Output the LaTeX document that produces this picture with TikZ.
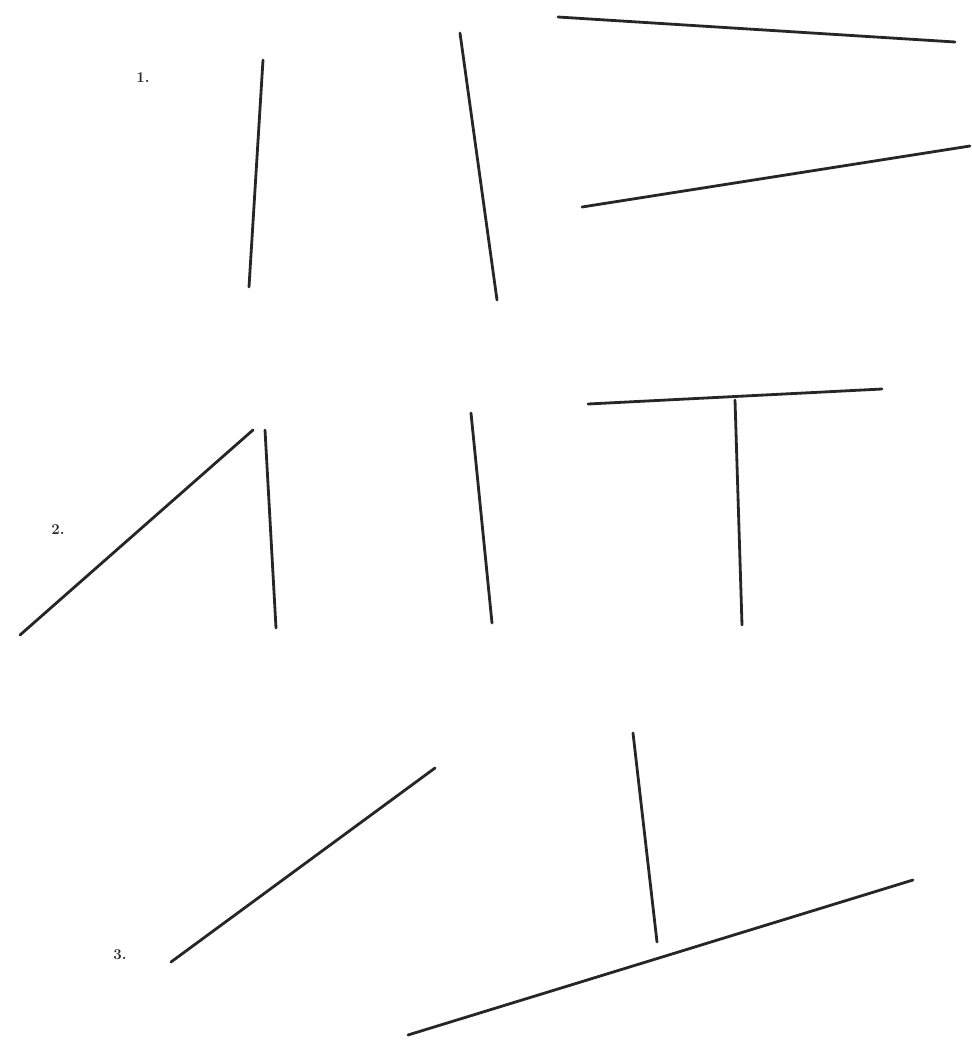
\documentclass[tikz,border=0pt]{standalone}
\begin{document}
\begin{tikzpicture}[x=1pt,y=-1pt,
  seg/.style={draw=black!85,line width=2.8pt,line cap=round},
  lbl/.style={font=\bfseries\fontsize{15}{17}\selectfont,text=black!85}]
\useasboundingbox[fill=white] (0,0) rectangle (972,1042);
% row 1
\node[lbl] (l1) at (143,78) {1.};
\coordinate (a1) at (263,60);  \coordinate (a2) at (249,287);
\coordinate (b1) at (460,33);  \coordinate (b2) at (497,300);
\coordinate (c1) at (558,17);  \coordinate (c2) at (955,42);
\coordinate (d1) at (582,207); \coordinate (d2) at (970,146);
\draw[seg] (a1) -- (a2);
\draw[seg] (b1) -- (b2);
\draw[seg] (c1) -- (c2);
\draw[seg] (d1) -- (d2);
% row 2
\node[lbl] (l2) at (58,530) {2.};
\coordinate (e1) at (20,635);  \coordinate (e2) at (253,430);
\coordinate (f1) at (265,430); \coordinate (f2) at (276,628);
\coordinate (g1) at (471,413); \coordinate (g2) at (492,623);
\coordinate (h1) at (588,404); \coordinate (h2) at (882,389);
\coordinate (i1) at (735,400); \coordinate (i2) at (742,625);
\draw[seg] (e1) -- (e2);
\draw[seg] (f1) -- (f2);
\draw[seg] (g1) -- (g2);
\draw[seg] (h1) -- (h2);
\draw[seg] (i1) -- (i2);
% row 3
\node[lbl] (l3) at (120,955) {3.};
\coordinate (j1) at (435,768); \coordinate (j2) at (171,962);
\coordinate (k1) at (633,733); \coordinate (k2) at (657,942);
\coordinate (m1) at (408,1035); \coordinate (m2) at (913,880);
\draw[seg] (j1) -- (j2);
\draw[seg] (k1) -- (k2);
\draw[seg] (m1) -- (m2);
\end{tikzpicture}
\end{document}
